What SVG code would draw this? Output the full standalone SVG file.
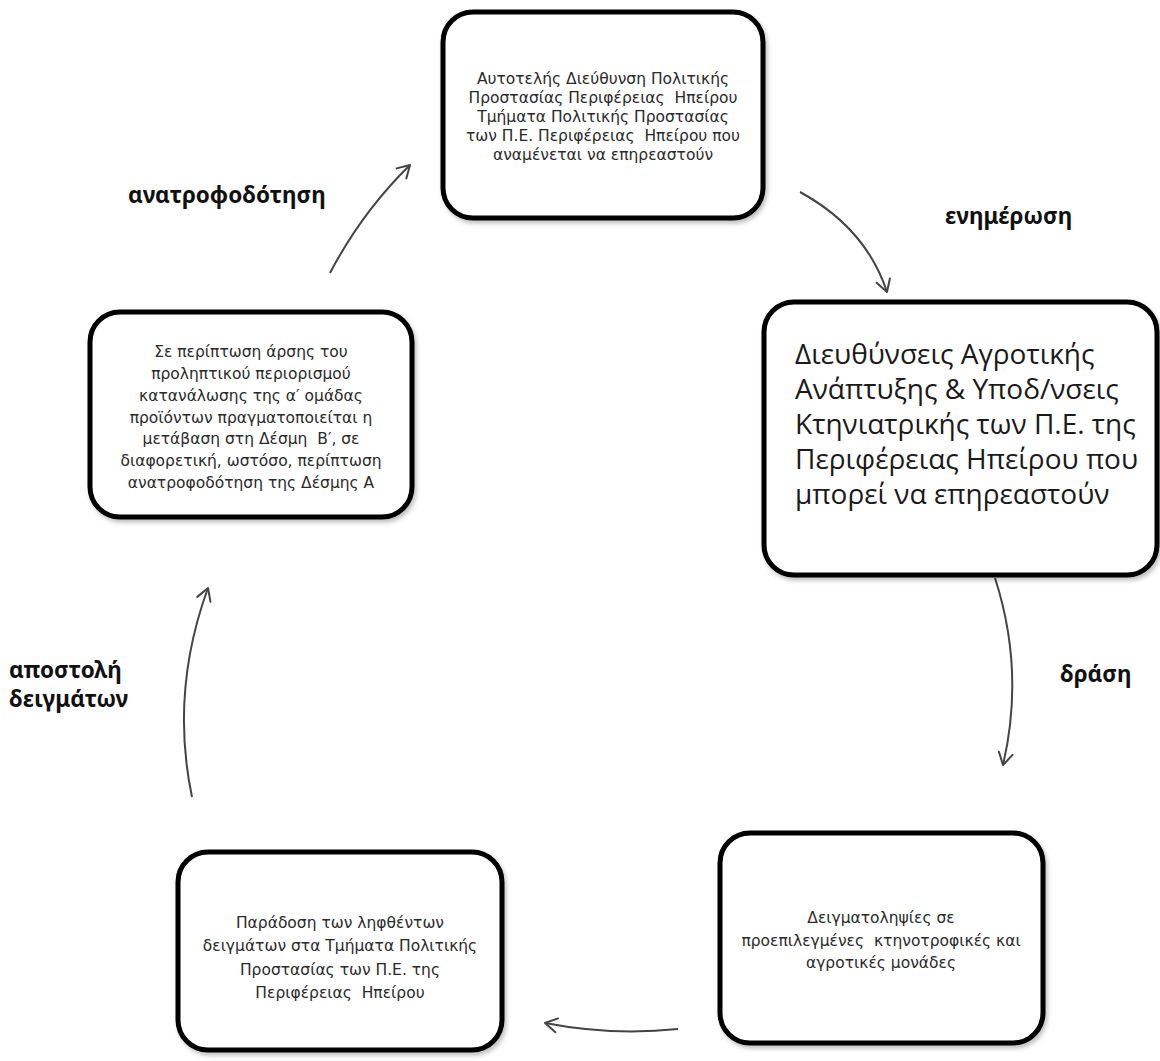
<svg xmlns="http://www.w3.org/2000/svg" width="1160" height="1061" viewBox="0 0 1160 1061">
  <defs>
    <filter id="sh" x="-5%" y="-5%" width="115%" height="115%">
      <feDropShadow dx="2" dy="3" stdDeviation="2" flood-color="#000" flood-opacity="0.25"/>
    </filter>
    <marker id="ah" markerUnits="userSpaceOnUse" markerWidth="20" markerHeight="20" refX="14" refY="10" orient="auto">
      <path d="M2,3 L14,10 L2,17" fill="none" stroke="#444" stroke-width="2" stroke-linecap="round" stroke-linejoin="round"/>
    </marker>
  </defs>
  <style>
    .box { fill: #fff; stroke: #000; stroke-width: 5; filter: url(#sh); }
    .sm { font-family: "DejaVu Sans", sans-serif; font-size: 15.5px; fill: #2a2a2a; text-anchor: middle; white-space: pre; }
    .big { font-family: "Open Sans", "Noto Sans", sans-serif; font-size: 28px; fill: #1a1a1a; }
    .lbl { font-family: "Noto Sans", "DejaVu Sans", sans-serif; font-weight: bold; font-size: 22.5px; fill: #111; }
    .con { fill: none; stroke: #444; stroke-width: 2; marker-end: url(#ah); }
  </style>
  <rect width="1160" height="1061" fill="#fff"/>

  <g id="connectors">
    <path class="con" d="M330,273 Q362,212 410,165"/>
    <path class="con" d="M800,192 Q866,228 887,292"/>
    <path class="con" d="M995,578 Q1025,671 1003,765"/>
    <path class="con" d="M678,1029 Q612,1036 545,1023"/>
    <path class="con" d="M192,797 Q170,692 208,588"/>
  </g>

  <g id="node-top">
    <rect class="box" x="443" y="12" width="320" height="206" rx="30"/>
    <text class="sm" font-size="16" x="603" y="84">Αυτοτελής Διεύθυνση Πολιτικής</text>
    <text class="sm" font-size="16" x="603" y="103">Προστασίας Περιφέρειας  Ηπείρου</text>
    <text class="sm" font-size="16" x="603" y="122">Τμήματα Πολιτικής Προστασίας</text>
    <text class="sm" font-size="16" x="603" y="141">των Π.Ε. Περιφέρειας  Ηπείρου που</text>
    <text class="sm" font-size="16" x="603" y="160">αναμένεται να επηρεαστούν</text>
  </g>

  <g id="node-right">
    <rect class="box" x="764" y="302" width="393" height="273" rx="30"/>
    <text class="big" x="795" y="364">Διευθύνσεις Αγροτικής</text>
    <text class="big" x="795" y="399">Ανάπτυξης &amp; Υποδ/νσεις</text>
    <text class="big" x="795" y="434">Κτηνιατρικής των Π.Ε. της</text>
    <text class="big" x="795" y="469">Περιφέρειας Ηπείρου που</text>
    <text class="big" x="795" y="504">μπορεί να επηρεαστούν</text>
  </g>

  <g id="node-bottom-right">
    <rect class="box" x="720" y="833" width="323" height="210" rx="30"/>
    <text class="sm" x="881" y="923">Δειγματοληψίες σε</text>
    <text class="sm" x="881" y="946">προεπιλεγμένες  κτηνοτροφικές και</text>
    <text class="sm" x="881" y="968">αγροτικές μονάδες</text>
  </g>

  <g id="node-bottom-left">
    <rect class="box" x="178" y="852" width="324" height="198" rx="30"/>
    <text class="sm" x="340" y="928">Παράδοση των ληφθέντων</text>
    <text class="sm" x="340" y="951">δειγμάτων στα Τμήματα Πολιτικής</text>
    <text class="sm" x="340" y="975">Προστασίας των Π.Ε. της</text>
    <text class="sm" x="340" y="998">Περιφέρειας  Ηπείρου</text>
  </g>

  <g id="node-left">
    <rect class="box" x="90" y="312" width="322" height="205" rx="30"/>
    <text class="sm" x="251" y="357">Σε περίπτωση άρσης του</text>
    <text class="sm" x="251" y="379">προληπτικού περιορισμού</text>
    <text class="sm" x="251" y="401">κατανάλωσης της α′ ομάδας</text>
    <text class="sm" x="251" y="423">προϊόντων πραγματοποιείται η</text>
    <text class="sm" x="251" y="444">μετάβαση στη Δέσμη  Β′, σε</text>
    <text class="sm" x="251" y="466">διαφορετική, ωστόσο, περίπτωση</text>
    <text class="sm" x="251" y="488">ανατροφοδότηση της Δέσμης Α</text>
  </g>

  <g id="labels">
    <text class="lbl" x="128" y="203">ανατροφοδότηση</text>
    <text class="lbl" x="945" y="224">ενημέρωση</text>
    <text class="lbl" x="1060" y="682">δράση</text>
    <text class="lbl" x="9" y="678">αποστολή</text>
    <text class="lbl" x="9" y="707">δειγμάτων</text>
  </g>
</svg>
